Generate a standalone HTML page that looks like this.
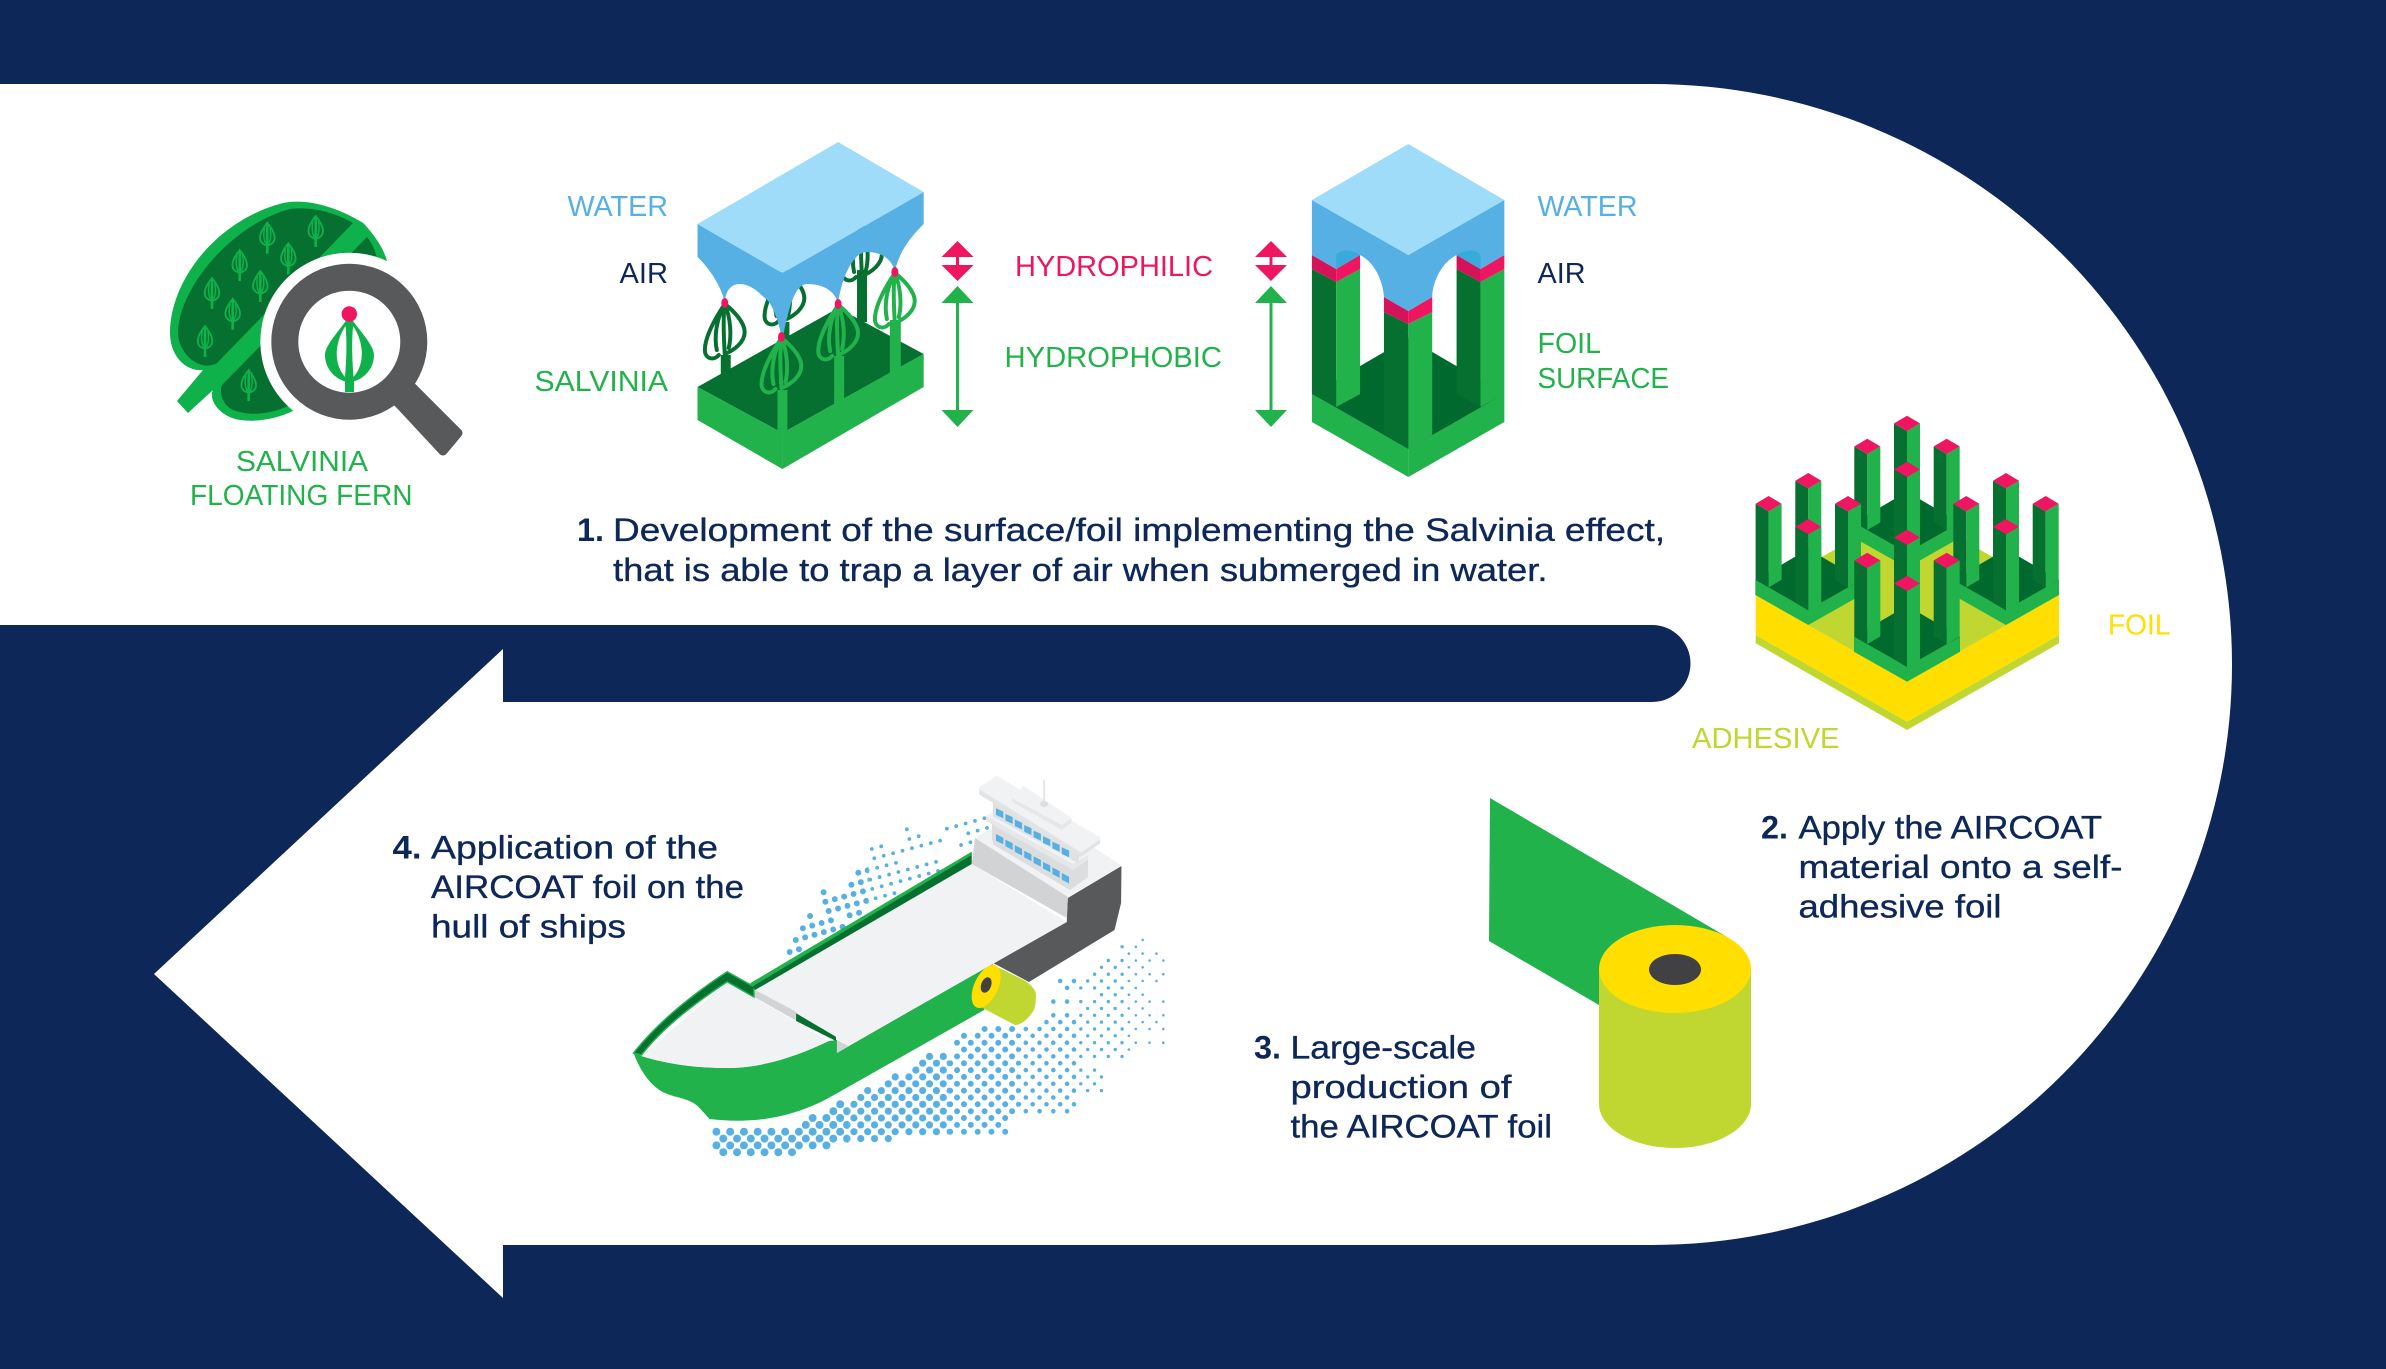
<!DOCTYPE html>
<html lang="en">
<head>
<meta charset="utf-8">
<title>AIRCOAT</title>
<style>
html,body{margin:0;padding:0;background:#0d2759;width:2386px;height:1369px;overflow:hidden}
svg{display:block}
text{font-family:"Liberation Sans",sans-serif}
.l{font-size:29px}
.b{font-size:32px;fill:#0d2759;stroke:#0d2759;stroke-width:.35}
.n{font-size:32px;fill:#0d2759;font-weight:bold}
</style>
</head>
<body>
<svg xmlns="http://www.w3.org/2000/svg" width="2386" height="1369" viewBox="0 0 2386 1369">
<defs>
  <g id="pillar">
    <polygon points="-13,0 0,7.67 0,83.67 -13,76" fill="#05702f"/>
    <polygon points="0,7.67 13,0 13,76 0,83.67" fill="#22b24c"/>
    <polygon points="-13,0 0,-7.67 13,0 0,7.67" fill="#ee1561"/>
  </g>
  <g id="cluster">
    <polygon points="-53,-30 0,0 53,-30 53,-15 0,15 -53,-15" fill="#22b24c"/>
    <polygon points="-53,-30 0,-61 53,-30 0,0" fill="#006a2e"/>
    <use href="#pillar" x="0" y="-129.3"/>
    <use href="#pillar" x="-39.7" y="-106.3"/>
    <use href="#pillar" x="39.7" y="-106.3"/>
    <use href="#pillar" x="0" y="-83.3"/>
  </g>
  <path id="fern" fill="none" stroke-width="4" stroke-linecap="round" d="M0 0C-8 12-20 32-20 46c0 9 9 11 14 5M0 0C-8 14-11 32-8 46M0 0C-2 14-1 34 0 50M0 0C6 14 7 32 4 44M0 0C8 6 20 18 20 28c0 10-10 18-20 22"/>
  <g id="tree" fill="none" stroke="#0fb14a">
    <path stroke-width="1.8" d="M0 0C-4 5-7.3 10-7.3 15C-7.3 20-3 22.500 0 22.500C3 22.500 7.300 20 7.300 15C7.300 10 4 5 0 0Z"/>
    <path stroke-width="1.5" d="M-2.800 5C-4 11-3.500 17-1.500 21M2.800 5C4 11 3.500 17 1.500 21"/>
    <path stroke-width="2.600" d="M0 1V31"/>
  </g>
  <g id="arr">
    <polygon points="0,241 16,257 -16,257" fill="#ee1561"/>
    <polygon points="-16,265 16,265 0,281" fill="#ee1561"/>
    <rect x="-1.500" y="257" width="3" height="8" fill="#ee1561"/>
    <polygon points="0,286 16,303 -16,303" fill="#22b24c"/>
    <polygon points="-16,410 16,410 0,427" fill="#22b24c"/>
    <rect x="-1.500" y="303" width="3" height="107" fill="#22b24c"/>
  </g>
  <path id="lowdots" fill="none" stroke="#57b0e3" stroke-linecap="round" stroke-dasharray="0 13.82" d="M723.8 1152.2H793.4M716.9 1145.4H828M723.8 1138.6H890.1M716.9 1131.7H1007.6M806.7 1124.9H1000.7M813.6 1118H1007.6M834.4 1111.2H1069.8M841.3 1104.3H1076.7M862 1097.5H1069.8M868.9 1090.6H1104.4M889.6 1083.8H1097.5M896.6 1076.9H1104.4M917.3 1070.1H1097.5M924.2 1063.2H1076.7M931.1 1056.4H1125.1M965.7 1049.5H1132M958.7 1042.7H1166.5M965.7 1035.8H1132M986.4 1029H1166.5M1048.6 1022.1H1159.6M1055.5 1015.3H1166.5M1090 1008.4H1145.8M1055.5 1001.6H1166.5M1103.900 994.7H1145.8M1069.3 987.9H1138.9M1062.4 981H1159.6M1097 974.2H1166.5M1103.9 967.3H1145.8M1110.8 960.5H1166.5M1131.5 953.6H1159.6M1124.6 946.8H1138.9M1145.3 939.9H1145.8"/>
  <path id="backdots" fill="none" stroke="#57b0e3" stroke-linecap="round" stroke-dasharray="0 9.78" d="M790.500 952L809 946.500M796.600 940L845 926.500M803.800 928.300L832.800 920.100M811 916L811.300 915.900M850.800 915.300L861 912.500M829.700 911L896.200 893.100M826.400 901.700L940 870.800M824.600 892.300L824.900 892.200M852.600 884.700L937.900 861.800M859.500 872.700L897.600 862.800M875.600 858.300L942.200 840.500M873.100 849L882.900 846.200M910.800 839L920.600 836.100M908.300 829.300L908.600 829.200M948.500 828.700L986.700 818.100M962.800 845L972.700 842.100M970 833.300L989.200 827.800"/>
  <clipPath id="z1"><rect x="600" y="900" width="250" height="280"/></clipPath>
  <clipPath id="z2"><rect x="850" y="900" width="100" height="280"/></clipPath>
  <clipPath id="z3"><rect x="950" y="900" width="70" height="280"/></clipPath>
  <clipPath id="z4"><rect x="1020" y="900" width="60" height="280"/></clipPath>
  <clipPath id="z5"><rect x="1080" y="900" width="50" height="280"/></clipPath>
  <clipPath id="z6"><rect x="1130" y="900" width="60" height="280"/></clipPath>
  <clipPath id="b1"><rect x="760" y="800" width="110" height="170"/></clipPath>
  <clipPath id="b2"><rect x="870" y="800" width="140" height="170"/></clipPath>
</defs>

<rect width="2386" height="1369" fill="#0d2759"/>
<path fill="#ffffff" d="M0 84H1651.500A580.500 580.500 0 0 1 1651.500 1245H503V1298L154 974L503 649V702H1652A38.500 38.500 0 0 0 1652 625H0Z"/>

<!-- Leaf and magnifier -->
<path fill="#0fb14a" d="M363.300 223C337 207 307 198 283 203C217 220 170 280 170 333C170 357 187 372 203 370L177 401L188 413L213 390C208 400 220 417 240 420C255 422 275 420 295 410L387 261C384 250 377 238 363.300 223Z"/>
<path fill="#05702f" d="M353 223C330 210 307 207 290 209C230 225 178 290 178 333C178 353 200 373 217 363Z"/>
<path fill="#05702f" d="M367 237C372 243 375 250 377 258L290 405C270 415 250 415 240 412C225 410 218 395 222 385Z"/>
<use href="#tree" x="315.700" y="216"/><use href="#tree" x="267.300" y="222.700"/><use href="#tree" x="288.300" y="243.300"/>
<use href="#tree" x="239.700" y="250"/><use href="#tree" x="260.300" y="271"/><use href="#tree" x="212" y="278"/>
<use href="#tree" x="232.700" y="298.700"/><use href="#tree" x="205" y="326"/><use href="#tree" x="248.700" y="370"/>
<circle cx="349.300" cy="341.700" r="89" fill="#fff"/>
<polygon points="390,395 405,380 420,395 458,433 443,451 403,408" fill="#58595b" stroke="#58595b" stroke-width="9" stroke-linejoin="round"/>
<circle cx="349.300" cy="341.700" r="64.500" fill="#fff" stroke="#58595b" stroke-width="27"/>
<rect x="345" y="378" width="9" height="14" fill="#0fb14a"/>
<path fill="#0fb14a" d="M349.300 316C340 330 325 345 325 355C325 372 340 382 349.300 382C359 382 374 372 374 355C374 345 359 330 349.300 316Z"/>
<path fill="#fff" d="M345.500 326C336 340 332 362 345 377C346.500 360 347 340 345.500 326ZM353.100 326C362.600 340 366.600 362 353.600 377C352.100 360 351.600 340 353.100 326Z"/>
<circle cx="349.300" cy="314" r="7.700" fill="#ee1561"/>

<text class="l" x="236" y="471" textLength="132" lengthAdjust="spacingAndGlyphs" fill="#22b24c">SALVINIA</text>
<text class="l" x="190" y="505" textLength="222.500" lengthAdjust="spacingAndGlyphs" fill="#22b24c">FLOATING FERN</text>

<!-- Block 1 -->
<g transform="translate(130 0) scale(0.99458 1) translate(-130 0)">
<polygon points="700.600,387 842,308 928,354 786,433" fill="#05702f"/>
<polygon points="700.600,387 786,433 786,469 700.600,420" fill="#22b24c"/>
<polygon points="786,433 928,354 928,387 786,469" fill="#22b24c"/>
<rect x="861" y="270" width="10" height="52" fill="#05702f"/>
<use href="#fern" x="866" y="226" stroke="#05702f"/>
<rect x="785" y="322" width="8" height="20" fill="#05702f"/>
<use href="#fern" x="788" y="270" stroke="#05702f"/>
<path fill="#57b0e3" d="M700.600 224L786 273L928 192V224C914 238 903 252 899 272C896 258 884 252 871 252C858 252 846 275 842 303C838 290 826 284 811 284C798 284 792 310 787 335L785 335C780 315 775 302 767 297C760 290 752 284 743 284C735 284 729 290 728 302C724 285 712 268 700.600 257Z"/>
<polygon points="842,142 928,192 786,273 700.600,224" fill="#9fdcf9"/>
<rect x="724" y="355" width="10" height="20" fill="#05702f"/>
<use href="#fern" x="728" y="304" stroke="#05702f"/>
<rect x="894" y="320" width="11" height="53" fill="#22b24c"/>
<use href="#fern" x="899" y="273" stroke="#22b24c"/>
<rect x="838" y="356" width="10" height="51" fill="#22b24c"/>
<use href="#fern" x="842" y="305" stroke="#22b24c"/>
<rect x="781" y="390" width="10" height="44" fill="#22b24c"/>
<use href="#fern" x="785" y="338" stroke="#22b24c"/>
<g fill="#ee1561">
<ellipse cx="728" cy="303" rx="3.500" ry="5"/><ellipse cx="785" cy="337" rx="3.500" ry="5"/>
<ellipse cx="842" cy="304" rx="3.500" ry="5"/><ellipse cx="899" cy="272" rx="3.500" ry="5"/>
</g>
</g>

<text class="l" x="567.500" y="216" textLength="100.500" lengthAdjust="spacingAndGlyphs" fill="#57b0e3">WATER</text>
<text class="l" x="619.500" y="283" textLength="48.500" lengthAdjust="spacingAndGlyphs" fill="#0d2759">AIR</text>
<text class="l" x="534.500" y="391" textLength="133.500" lengthAdjust="spacingAndGlyphs" fill="#22b24c">SALVINIA</text>

<!-- Arrows -->
<use href="#arr" x="957.500"/>
<use href="#arr" x="1271"/>

<text class="l" x="1015" y="276" textLength="198" lengthAdjust="spacingAndGlyphs" fill="#ee1561">HYDROPHILIC</text>
<text class="l" x="1004.500" y="367" textLength="217.500" lengthAdjust="spacingAndGlyphs" fill="#22b24c">HYDROPHOBIC</text>

<!-- Block 2 -->
<g transform="translate(980 0) scale(0.99495 1) translate(-980 0)">
<polygon points="1313.600,394 1410.500,449 1410.500,477 1313.600,422" fill="#22b24c"/>
<polygon points="1507,394 1410.500,449 1410.500,477 1507,422" fill="#22b24c"/>
<polygon points="1313.600,394 1410.500,338 1507,394 1410.500,449" fill="#006a2e"/>
<polygon points="1313.600,269 1338,282 1338,407 1313.600,394" fill="#05702f"/>
<polygon points="1338,282 1362,269 1362,394 1338,407" fill="#22b24c"/>
<polygon points="1313.600,255 1338,269 1338,282 1313.600,269" fill="#d5135a"/>
<polygon points="1338,269 1362,255 1362,269 1338,282" fill="#ee1561"/>
<polygon points="1459,269 1483,282 1483,407 1459,394" fill="#05702f"/>
<polygon points="1483,282 1507,269 1507,394 1483,407" fill="#22b24c"/>
<polygon points="1459,255 1483,269 1483,282 1459,269" fill="#d5135a"/>
<polygon points="1483,269 1507,255 1507,269 1483,282" fill="#ee1561"/>
<polygon points="1386,312 1410.500,324 1410.500,449 1386,435" fill="#05702f"/>
<polygon points="1410.500,324 1434.500,312 1434.500,435 1410.500,449" fill="#22b24c"/>
<polygon points="1386,297 1410.500,311 1410.500,324 1386,312" fill="#d5135a"/>
<polygon points="1410.500,311 1434.500,297 1434.500,312 1410.500,324" fill="#ee1561"/>
<path fill="#57b0e3" d="M1313.600 200L1410.500 255L1507 200V255L1483 269L1459 255C1445 262 1435 280 1434.500 297L1410.500 311L1386 297C1385 280 1376 262 1362 255L1338 269L1313.600 255Z"/>
<path fill="#3aa9dc" d="M1338 269V255C1342 249 1352 249 1362 255ZM1483 269V255C1479 249 1469 249 1459 255Z"/>
<polygon points="1410.500,144 1507,200 1410.500,255 1313.600,200" fill="#9fdcf9"/>
</g>

<text class="l" x="1537.500" y="216" textLength="100" lengthAdjust="spacingAndGlyphs" fill="#57b0e3">WATER</text>
<text class="l" x="1537.500" y="283" textLength="48" lengthAdjust="spacingAndGlyphs" fill="#0d2759">AIR</text>
<text class="l" x="1537.500" y="353" textLength="63.500" lengthAdjust="spacingAndGlyphs" fill="#22b24c">FOIL</text>
<text class="l" x="1537.500" y="388" textLength="131.500" lengthAdjust="spacingAndGlyphs" fill="#22b24c">SURFACE</text>

<!-- Paragraph 1 -->
<text class="n" x="577" y="541" textLength="27" lengthAdjust="spacingAndGlyphs">1.</text>
<text class="b" x="613" y="541" textLength="1052" lengthAdjust="spacingAndGlyphs">Development of the surface/foil implementing the Salvinia effect,</text>
<text class="b" x="613" y="581" textLength="934.500" lengthAdjust="spacingAndGlyphs">that is able to trap a layer of air when submerged in water.</text>

<!-- Foil block -->
<polygon points="1755.700,635 1907,721.700 2059,635 2059,643.300 1907,730 1755.700,643.300" fill="#bfd730"/>
<polygon points="1755.700,595 1907,681.700 2059,595 2059,635 1907,721.700 1755.700,635" fill="#ffde00"/>
<polygon points="1755.700,595 1907,508 2059,595 1907,681.700" fill="#bfd730"/>
<use href="#cluster" x="1907" y="552.700"/>
<use href="#cluster" x="1808.300" y="610"/>
<use href="#cluster" x="2006" y="610"/>
<use href="#cluster" x="1907" y="666.700"/>
<text class="l" x="2108" y="634.500" textLength="62.500" lengthAdjust="spacingAndGlyphs" fill="#ffde00">FOIL</text>
<text class="l" x="1692" y="748" textLength="147.500" lengthAdjust="spacingAndGlyphs" fill="#bfd730">ADHESIVE</text>

<!-- Paragraph 2 -->
<text class="n" x="1761" y="838.500" textLength="27" lengthAdjust="spacingAndGlyphs">2.</text>
<text class="b" x="1798.500" y="838.500" textLength="303.500" lengthAdjust="spacingAndGlyphs">Apply the AIRCOAT</text>
<text class="b" x="1798.500" y="878" textLength="324" lengthAdjust="spacingAndGlyphs">material onto a self-</text>
<text class="b" x="1798.500" y="917.500" textLength="203" lengthAdjust="spacingAndGlyphs">adhesive foil</text>

<!-- Roll -->
<polygon points="1490,798 1489,941 1599,1005 1727,937" fill="#22b24c"/>
<path fill="#bfd730" d="M1599 969H1751V1104C1751 1128 1717 1148 1675 1148C1633 1148 1599 1128 1599 1104Z"/>
<ellipse cx="1675" cy="969" rx="76" ry="44" fill="#ffde00"/>
<ellipse cx="1675" cy="969.500" rx="26" ry="15.500" fill="#414042"/>

<!-- Paragraph 3 -->
<text class="n" x="1254" y="1058.500" textLength="27" lengthAdjust="spacingAndGlyphs">3.</text>
<text class="b" x="1290.500" y="1058.500" textLength="185.500" lengthAdjust="spacingAndGlyphs">Large-scale</text>
<text class="b" x="1290.500" y="1098" textLength="221" lengthAdjust="spacingAndGlyphs">production of</text>
<text class="b" x="1290.500" y="1137.500" textLength="261.500" lengthAdjust="spacingAndGlyphs">the AIRCOAT foil</text>

<!-- Paragraph 4 -->
<text class="n" x="392.500" y="858.500" textLength="29" lengthAdjust="spacingAndGlyphs">4.</text>
<text class="b" x="431" y="858.500" textLength="287" lengthAdjust="spacingAndGlyphs">Application of the</text>
<text class="b" x="431" y="898" textLength="313" lengthAdjust="spacingAndGlyphs">AIRCOAT foil on the</text>
<text class="b" x="431" y="937.500" textLength="195" lengthAdjust="spacingAndGlyphs">hull of ships</text>

<!-- Ship, dots and hull -->
<g transform="translate(620 0) scale(0.995 1) translate(-620 0)">
<use href="#backdots" stroke-width="6" clip-path="url(#b1)"/>
<use href="#backdots" stroke-width="3.800" clip-path="url(#b2)"/>
<use href="#lowdots" stroke-width="8" clip-path="url(#z1)"/>
<use href="#lowdots" stroke-width="7.200" clip-path="url(#z2)"/>
<use href="#lowdots" stroke-width="6" clip-path="url(#z3)"/>
<use href="#lowdots" stroke-width="4.600" clip-path="url(#z4)"/>
<use href="#lowdots" stroke-width="3.400" clip-path="url(#z5)"/>
<use href="#lowdots" stroke-width="2.600" clip-path="url(#z6)"/>
<polygon points="995,963 1069,922 1070,898 1124,866 1123.600,903 1117,930 1031,982" fill="#58595b"/>
<path fill="#22b24c" d="M633.600 1053C640 1070 650 1085 663 1092C675 1098 690 1098 699 1107L710 1119C760 1125 800 1115 835 1095L986 1010L995 963L838 1053V1040L830 1041C800 1055 765 1068 728 1068C700 1068 670 1065 641.500 1056Z"/>
<polygon points="755.700,990 973.500,864 1069,922 849.700,1046 837,1038 797,1015 797,1011.700" fill="#f1f2f4"/>
<polygon points="755.700,990 797,1011.700 797,1020.700 754.600,996.700" fill="#d1d3d4"/>
<polygon points="838,1040 849.700,1046 838,1053" fill="#d1d3d4"/>
<path fill="#f1f2f4" d="M641.500 1056L727.700 982L754.600 997L830 1041C800 1055 765 1068 728 1068C700 1068 670 1065 641.500 1056Z"/>
<path fill="#05702f" stroke="#22b24c" stroke-width="1.500" d="M633.600 1053C660 1020 695 993 727.700 971.700L754.600 986.700V997L727.700 981.700C700 1000 665 1025 641.500 1055Z"/>
<polygon points="751,983.300 973.500,851.700 973.500,864 755.700,990" fill="#05702f"/>
<polygon points="751,983.300 973.500,851.700 973.500,855 753,986.500" fill="#22b24c"/>
<polygon points="797,1013.300 837,1036.700 838,1053 837,1041 797,1021" fill="#05702f"/>
</g>

<!-- Superstructure -->
<polygon points="975,838 1000,823 1090,845 1121.700,865.700 1068,897" fill="#f1f2f4"/>
<polygon points="975,838 1068,897 1066.700,918 971.700,864" fill="#d1d3d4"/>
<polygon points="992,818 1088,860 1088,877 1070,890 994,845 992,840" fill="#dcddde"/>
<path fill="#57b0e3" d="M996 834l7.300 3.700v6.700l-7.300-3.700zm9.400 5.570l7.300 3.700v6.700l-7.300-3.700zm9.400 5.570l7.300 3.700v6.700l-7.300-3.700zm9.400 5.570l7.300 3.700v6.700l-7.300-3.700zm9.400 5.570l7.300 3.700v6.700l-7.300-3.700zm9.400 5.570l7.300 3.700v6.700l-7.300-3.700zm9.400 5.570l7.300 3.700v6.700l-7.300-3.700zm9.400 5.570l7.300 3.700v6.700l-7.300-3.700z"/>
<polygon points="986,816 1000,808 1088,855 1088,860 1073,870 986,821" fill="#e6e7e8"/>
<polygon points="986,816 1000,808 1088,855 1073,864" fill="#f1f2f4"/>
<polygon points="993,803 1080,853 1078,863 993,816.500" fill="#e0e1e2"/>
<path fill="#57b0e3" d="M996 808.300l7.300 3.300v6.700l-7.300-3.300zm9.400 5.570l7.300 3.300v6.700l-7.300-3.300zm9.400 5.570l7.300 3.300v6.700l-7.300-3.300zm9.400 5.570l7.300 3.300v6.700l-7.300-3.300zm9.400 5.570l7.300 3.300v6.700l-7.300-3.300zm9.400 5.570l7.300 3.300v6.700l-7.300-3.300zm9.400 5.570l7.300 3.300v6.700l-7.300-3.300zm9.400 5.570l7.300 3.300v6.700l-7.300-3.300z"/>
<polygon points="980,788.300 1081,851 1099.300,838.300 1099.300,843 1081,856 980,794" fill="#e2e3e4" stroke="#e2e3e4" stroke-width="1.500" stroke-linejoin="round"/>
<polygon points="980,788.300 996.700,777.300 1099.300,838.300 1081,851" fill="#f1f2f4" stroke="#f1f2f4" stroke-width="2.500" stroke-linejoin="round"/>
<polygon points="1012.300,798.300 1023.300,786 1071.700,818.300 1071,823 1061.700,830 1012.300,802" fill="#e6e7e8"/>
<polygon points="1012.300,798.300 1023.300,786 1071.700,818.300 1061.700,825" fill="#f1f2f4"/>
<rect x="1043.500" y="780" width="1.200" height="22" fill="#d8d9da"/>
<ellipse cx="1044" cy="804" rx="4" ry="3" fill="#dcddde"/>

<!-- Roll on ship -->
<g transform="translate(620 0) scale(0.995 1) translate(-620 0)">
<path fill="#bfd730" d="M995 965L1025.600 980C1034 985 1039 991 1038 997C1038 1003 1037 1007 1036 1010C1031 1018 1024 1025 1017 1025L982.500 1007Z"/>
<ellipse cx="988" cy="986.500" rx="12" ry="23" transform="rotate(25 988 986.500)" fill="#ffde00"/>
<ellipse cx="988" cy="985" rx="5" ry="8" transform="rotate(20 988 985)" fill="#414042"/>
</g>
</svg>
</body>
</html>
